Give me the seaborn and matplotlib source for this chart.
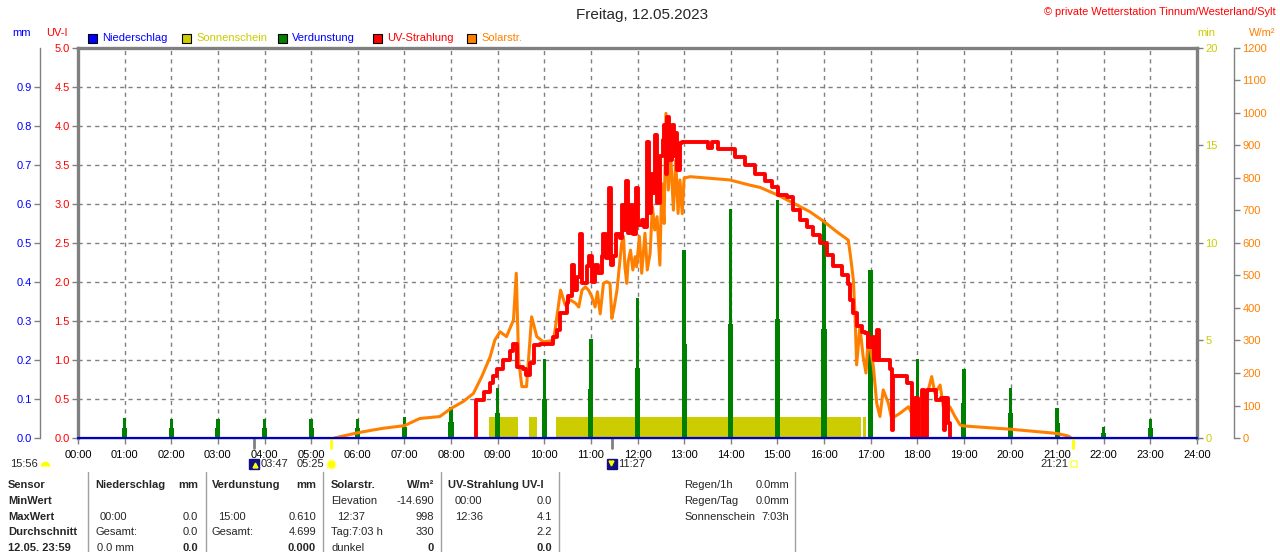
import numpy as np
import pandas as pd
import matplotlib
matplotlib.use("Agg")
import matplotlib.pyplot as plt
import seaborn as sns
from matplotlib.lines import Line2D
from matplotlib.patches import Rectangle
import matplotlib.transforms as mtransforms

# ---------------- data ----------------
hour_ticks = [0, 1, 2, 3, 4, 5, 6, 7, 8, 9, 10, 11, 12, 13, 14, 15, 16, 17, 18, 19, 20, 21, 22, 23, 24]
hour_labels = ["00:00", "01:00", "02:00", "03:00", "04:00", "05:00", "06:00", "07:00", "08:00",
               "09:00", "10:00", "11:00", "12:00", "13:00", "14:00", "15:00", "16:00", "17:00",
               "18:00", "19:00", "20:00", "21:00", "22:00", "23:00", "24:00"]

# Verdunstung (mm) per hour
evap_hours = [1, 2, 3, 4, 5, 6, 7, 8, 9, 10, 11, 12, 13, 14, 15, 16, 17, 18, 19, 20, 21, 22, 23]
evap_mm = [0.051, 0.050, 0.050, 0.050, 0.050, 0.050, 0.054, 0.079, 0.128, 0.203, 0.254, 0.359,
           0.482, 0.587, 0.610, 0.559, 0.431, 0.203, 0.177, 0.128, 0.077, 0.028, 0.050]
evap_half = [0.025, 0.025, 0.025, 0.025, 0.025, 0.025, 0.027, 0.040, 0.064, 0.100, 0.126, 0.180,
             0.240, 0.292, 0.305, 0.280, 0.431, 0.100, 0.090, 0.064, 0.038, 0.014, 0.025]

# Sonnenschein (min) intervals
sun_start = [8.815, 9.67, 10.25, 16.84]
sun_end = [9.43, 9.84, 16.79, 16.91]
sun_min = [1.1, 1.1, 1.1, 1.1]

# UV-Strahlung (UV-I)
uv_time = [8.53, 8.54, 8.66, 8.70, 8.84, 8.91, 8.98, 9.12, 9.27, 9.34, 9.41, 9.55, 9.61, 9.69, 9.77,
           9.91, 10.12, 10.19, 10.27, 10.34, 10.48, 10.52, 10.59, 10.63, 10.70, 10.77, 10.81, 10.91,
           10.97, 11.02, 11.09, 11.16, 11.23, 11.27, 11.33, 11.38, 11.43, 11.48, 11.54, 11.63, 11.66,
           11.71, 11.75, 11.80, 11.85, 11.91, 11.96, 12.02, 12.09, 12.14, 12.20, 12.24, 12.28, 12.34,
           12.37, 12.42, 12.48, 12.54, 12.57, 12.61, 12.64, 12.68, 12.73, 12.78, 12.82, 12.85, 12.91,
           12.95, 13.00, 13.52, 13.60, 13.73, 14.09, 14.30, 14.52, 14.63, 14.73, 14.88, 15.02,
           15.20, 15.34, 15.48, 15.63, 15.77, 15.91, 16.06, 16.20, 16.38, 16.52, 16.56, 16.63, 16.70,
           16.81, 16.88, 16.95, 17.02, 17.08, 17.13, 17.18, 17.34, 17.42, 17.45, 17.48, 17.70, 17.77,
           17.85, 17.88, 17.95, 18.02, 18.10, 18.14, 18.20, 18.34, 18.40, 18.50, 18.56, 18.57, 18.60,
           18.65, 18.70]
uv_index = [0.00, 0.49, 0.49, 0.59, 0.70, 0.79, 0.89, 1.00, 1.11, 1.21, 0.91, 0.89, 0.81, 0.96, 1.19,
            1.21, 1.21, 1.30, 1.38, 1.60, 1.73, 1.82, 2.22, 1.90, 2.07, 2.61, 1.99, 2.20,
            2.33, 2.00, 2.22, 2.12, 2.33, 2.61, 2.31, 3.20, 2.22, 2.33, 2.61, 2.56, 2.99,
            2.67, 3.29, 2.63, 2.99, 2.61, 3.20, 2.73, 2.80, 2.71, 3.80, 2.88, 3.39, 3.14,
            3.88, 3.01, 3.61, 3.82, 4.01, 3.39, 4.12, 3.57, 4.01, 3.61, 3.91, 3.44, 3.78,
            3.80, 3.79, 3.72, 3.79, 3.70, 3.60, 3.50, 3.39, 3.39, 3.29, 3.22, 3.12,
            3.09, 2.92, 2.79, 2.70, 2.60, 2.50, 2.35, 2.21, 2.09, 1.98, 1.77, 1.60, 1.43,
            1.36, 1.34, 1.17, 1.30, 1.00, 1.38, 1.00, 1.00, 0.89, 0.10, 0.79, 0.79, 0.70,
            0.70, 0.00, 0.51, 0.00, 0.62, 0.00, 0.62, 0.62, 0.49, 0.51, 0.51, 0.10, 0.51,
            0.19, 0.00]

# Solarstrahlung (W/m2)
solar_time = [5.50, 5.68, 6.00, 6.30, 6.55, 7.00, 7.33, 7.76, 8.00, 8.26, 8.48, 8.66, 8.84, 8.94, 9.05,
              9.19, 9.34, 9.40, 9.45, 9.52, 9.62, 9.73, 9.84, 9.98, 10.20, 10.35, 10.45, 10.56, 10.67,
              10.74, 10.81, 10.88, 10.95, 11.02, 11.09, 11.14, 11.20, 11.27, 11.34, 11.41, 11.45, 11.50,
              11.56, 11.61, 11.66, 11.70, 11.73, 11.77, 11.80, 11.85, 11.90, 11.95, 11.98, 12.04, 12.09,
              12.16, 12.21, 12.27, 12.32, 12.37, 12.42, 12.48, 12.52, 12.57, 12.61, 12.66, 12.71, 12.77,
              12.82, 12.87, 12.91, 12.96, 13.00, 13.13, 13.48, 13.98, 14.41, 14.63, 15.00, 15.35, 15.70,
              16.00, 16.27, 16.52, 16.57, 16.63, 16.67, 16.70, 16.77, 16.84, 16.90, 16.95, 17.06, 17.13,
              17.20, 17.27, 17.38, 17.45, 17.63, 17.81, 17.92, 18.06, 18.20, 18.31, 18.38, 18.49, 18.56,
              18.70, 18.81, 18.92, 19.00, 20.00, 21.00, 21.24, 21.30]
solar_wm2 = [0, 6, 16, 24, 30, 38, 60, 66, 91, 112, 137, 189, 250, 301, 327,
             312, 363, 507, 240, 158, 158, 373, 312, 296, 300, 455, 409, 425, 415,
             403, 455, 465, 455, 435, 403, 450, 382, 476, 481, 476, 368, 403,
             455, 527, 599, 620, 527, 476, 543, 578, 517, 558, 527, 620, 507,
             630, 517, 568, 712, 640, 681, 532, 783, 660, 999, 763, 876, 701,
             855, 691, 794, 690, 800, 804, 800, 794, 778, 771, 748, 722, 696,
             666, 635, 609, 558, 486, 363, 225, 342, 250, 200, 312, 219, 107,
             66, 148, 107, 60, 76, 96, 66, 66, 127, 189, 137, 163, 96,
             96, 66, 40, 37, 27, 14, 6, 0]

# Niederschlag (mm)
rain_time = [0, 24]
rain_mm = [0.0, 0.0]

# sun / moon events
event_labels = ["03:47", "05:25", "11:27", "21:21"]
event_hours = [3.783, 5.417, 11.45, 21.35]
event_colors = ["#808080", "#ffff00", "#808080", "#ffff00"]

# ---------------- style ----------------
sns.set_style("white")
plt.rcParams['font.family'] = ['Liberation Sans', 'DejaVu Sans']
plt.rcParams['font.size'] = 8

W, H = 1280, 552
fig = plt.figure(figsize=(12.8, 5.52), dpi=100)
fig.patch.set_facecolor('white')

def fx(x):
    return x / W

def fy(y):
    return 1 - y / H

GRAY = '#808080'
C_RAIN = '#0000ff'
C_SUN = '#cccc00'
C_EVAP = '#008000'
C_UV = '#ff0000'
C_SOL = '#ff8000'

ax = fig.add_axes([78 / W, (H - 438) / H, 1119 / W, 390 / H])
ax.set_xlim(0, 24)
ax.set_ylim(0, 5)
ax.set_xticks(hour_ticks)
ax.set_xticklabels(hour_labels)
uv_ticks = [0.0, 0.5, 1.0, 1.5, 2.0, 2.5, 3.0, 3.5, 4.0, 4.5, 5.0]
ax.set_yticks(uv_ticks)
ax.set_yticklabels([f"{v:.1f}" for v in uv_ticks])
ax.grid(True, color=GRAY, linestyle=(0, (3, 3)), linewidth=1)
ax.set_axisbelow(True)
for s in ['top', 'left', 'right']:
    ax.spines[s].set_color(GRAY)
    ax.spines[s].set_linewidth(2.4)
ax.spines['bottom'].set_color(GRAY)
ax.spines['bottom'].set_linewidth(1)
ax.tick_params(axis='y', direction='out', length=4, width=1, color=GRAY, pad=2,
               labelcolor=C_UV, labelsize=8, left=True)
ax.tick_params(axis='x', direction='out', length=4, width=1, color=GRAY, pad=4.5,
               labelcolor='black', labelsize=8, bottom=True)

# sunshine axis (min)
ax_min = ax.twinx()
ax_min.set_ylim(0, 20)
for s in ax_min.spines.values():
    s.set_visible(False)
ax_min.set_yticks([0, 5, 10, 15, 20])
ax_min.set_yticklabels(["0", "5", "10", "15", "20"])
ax_min.tick_params(axis='y', direction='out', length=4, width=1, color=GRAY, pad=2,
                   labelcolor=C_SUN, labelsize=8, right=True)
ax_min.bar(sun_start, sun_min, width=np.array(sun_end) - np.array(sun_start), align='edge',
           color=C_SUN, linewidth=0)

# evaporation axis (mm) on the far left
ax_mm = ax.twinx()
ax_mm.set_ylim(0, 1)
for s in ax_mm.spines.values():
    s.set_visible(False)
ax_mm.yaxis.set_ticks_position('left')
ax_mm.spines['left'].set_visible(True)
ax_mm.spines['left'].set_position(('outward', 27.4))
ax_mm.spines['left'].set_color(GRAY)
ax_mm.spines['left'].set_linewidth(1)
mm_ticks = [0.0, 0.1, 0.2, 0.3, 0.4, 0.5, 0.6, 0.7, 0.8, 0.9]
ax_mm.set_yticks(mm_ticks)
ax_mm.set_yticklabels([f"{v:.1f}" for v in mm_ticks])
ax_mm.tick_params(axis='y', direction='out', length=4, width=1, color=GRAY, pad=2,
                  labelcolor=C_RAIN, labelsize=8, left=True, right=False)
ax_mm.bar(evap_hours, evap_half, width=0.11, color=C_EVAP, linewidth=0)
ax_mm.bar(evap_hours, evap_mm, width=0.07, color=C_EVAP, linewidth=0)

# solar axis (W/m2) on the far right
ax_w = ax.twinx()
ax_w.set_ylim(0, 1200)
for s in ax_w.spines.values():
    s.set_visible(False)
ax_w.spines['right'].set_visible(True)
ax_w.spines['right'].set_position(('outward', 26.6))
ax_w.spines['right'].set_color(GRAY)
ax_w.spines['right'].set_linewidth(1)
w_ticks = [0, 100, 200, 300, 400, 500, 600, 700, 800, 900, 1000, 1100, 1200]
ax_w.set_yticks(w_ticks)
ax_w.set_yticklabels([str(v) for v in w_ticks])
ax_w.tick_params(axis='y', direction='out', length=4, width=1, color=GRAY, pad=2,
                 labelcolor=C_SOL, labelsize=8, right=True)
sns.lineplot(x=solar_time, y=solar_wm2, ax=ax_w, color=C_SOL, linewidth=2.2,
             estimator=None, sort=False, legend=False)

# UV line on its own overlay axis (same scale as ax)
ax_uv = ax.twinx()
ax_uv.set_ylim(0, 5)
for s in ax_uv.spines.values():
    s.set_visible(False)
ax_uv.set_yticks([])
ax_uv.tick_params(right=False, labelright=False)
sns.lineplot(x=uv_time, y=uv_index, ax=ax_uv, color=C_UV, linewidth=2.8,
             estimator=None, sort=False, legend=False, drawstyle='steps-post')

# Rain line
ax_rain = ax.twinx()
ax_rain.set_ylim(0, 1)
for s in ax_rain.spines.values():
    s.set_visible(False)
ax_rain.set_yticks([])
ax_rain.tick_params(right=False, labelright=False)
sns.lineplot(x=rain_time, y=rain_mm, ax=ax_rain, color='#0000c0', linewidth=1.6,
             estimator=None, sort=False, legend=False, clip_on=False)

for a in [ax_min, ax_mm, ax_w, ax_uv, ax_rain]:
    a.set_xlim(0, 24)
    a.set_ylabel("")
    a.set_xlabel("")
ax.set_xlabel("")
ax.set_ylabel("")

# event ticks below axis
trans = mtransforms.blended_transform_factory(ax.transData, ax.transAxes)
for t, c in zip(event_hours, event_colors):
    ax.plot([t, t], [0, -0.026], color=c, lw=2, transform=trans, clip_on=False, zorder=5)

# ---------------- texts ----------------
fig.text(fx(642), fy(15), "Freitag, 12.05.2023", ha='center', va='center', fontsize=11)
fig.text(fx(1276), fy(12), "\u00a9 private Wetterstation Tinnum/Westerland/Sylt", ha='right',
         va='center', color='red', fontsize=7.9)

fig.text(fx(22), fy(33), "mm", ha='center', va='center', color=C_RAIN, fontsize=8)
fig.text(fx(57), fy(33), "UV-I", ha='center', va='center', color=C_UV, fontsize=8)
fig.text(fx(1206), fy(33), "min", ha='center', va='center', color=C_SUN, fontsize=8)
fig.text(fx(1262), fy(33), "W/m\u00b2", ha='center', va='center', color=C_SOL, fontsize=8)

legend_items = [("Niederschlag", C_RAIN, C_RAIN, 88), ("Sonnenschein", C_SUN, C_SUN, 182),
                ("Verdunstung", C_EVAP, C_RAIN, 278), ("UV-Strahlung", C_UV, C_UV, 373),
                ("Solarstr.", C_SOL, C_SOL, 467)]
for lab, fc, tc, x0 in legend_items:
    fig.add_artist(Rectangle((fx(x0), fy(43)), 9 / W, 9 / H, transform=fig.transFigure,
                             facecolor=fc, edgecolor='black', linewidth=0.8))
    fig.text(fx(x0 + 14), fy(38), lab, ha='left', va='center', color=tc, fontsize=8)

# sun / moon info row
yrow = 464
fig.text(fx(10), fy(yrow), "15:56", ha='left', va='center', fontsize=8)
fig.add_artist(Line2D([fx(45)], [fy(yrow + 2)], marker='o', markersize=7, fillstyle='top',
                      markerfacecolor='#ffff00', markerfacecoloralt='none',
                      markeredgecolor='none', transform=fig.transFigure))
# moonrise 03:47
fig.add_artist(Line2D([fx(254)], [fy(yrow)], marker='s', markersize=7, color='#101080',
                      transform=fig.transFigure))
fig.add_artist(Line2D([fx(255)], [fy(yrow + 1)], marker='^', markersize=3.5, color='#ffff00',
                      transform=fig.transFigure))
fig.text(fx(261), fy(yrow), event_labels[0], ha='left', va='center', fontsize=8)
# sunrise 05:25
fig.text(fx(297), fy(yrow), event_labels[1], ha='left', va='center', fontsize=8)
fig.add_artist(Line2D([fx(331)], [fy(yrow)], marker='o', markersize=6.5, markerfacecolor='#ffff00',
                      markeredgecolor='#ffff99', transform=fig.transFigure))
# moonset 11:27
fig.add_artist(Line2D([fx(612)], [fy(yrow)], marker='s', markersize=7, color='#101080',
                      transform=fig.transFigure))
fig.add_artist(Line2D([fx(611)], [fy(yrow - 1)], marker='v', markersize=3.5, color='#ffff00',
                      transform=fig.transFigure))
fig.text(fx(618), fy(yrow), event_labels[2], ha='left', va='center', fontsize=8)
# sunset 21:21
fig.text(fx(1068), fy(yrow), event_labels[3], ha='right', va='center', fontsize=8)
fig.add_artist(Line2D([fx(1074)], [fy(yrow)], marker='s', markersize=5, markerfacecolor='none',
                      markeredgecolor='#ffff66', markeredgewidth=1.2, transform=fig.transFigure))

# ---------------- table ----------------
for xs in [88, 206, 323, 441, 559, 795]:
    fig.add_artist(Line2D([fx(xs), fx(xs)], [fy(472), fy(552)], color='#a0a0a0', lw=1,
                          transform=fig.transFigure))

rows = [485, 501, 517, 532, 548]

def T(x, y, s, ha='left', bold=False):
    fig.text(fx(x), fy(y), s, ha=ha, va='center', fontsize=8,
             fontweight='bold' if bold else 'normal')

for lab, y in zip(["Sensor", "MinWert", "MaxWert", "Durchschnitt", "12.05. 23:59"], rows):
    T(8, y, lab, bold=True)

T(95, rows[0], "Niederschlag", bold=True); T(198, rows[0], "mm", ha='right', bold=True)
T(100, rows[2], "00:00"); T(198, rows[2], "0.0", ha='right')
T(95, rows[3], "Gesamt:"); T(198, rows[3], "0.0", ha='right')
T(97, rows[4], "0.0 mm"); T(198, rows[4], "0.0", ha='right', bold=True)

T(212, rows[0], "Verdunstung", bold=True); T(316, rows[0], "mm", ha='right', bold=True)
T(218, rows[2], "15:00"); T(316, rows[2], "0.610", ha='right')
T(212, rows[3], "Gesamt:"); T(316, rows[3], "4.699", ha='right')
T(316, rows[4], "0.000", ha='right', bold=True)

T(331, rows[0], "Solarstr.", bold=True); T(434, rows[0], "W/m\u00b2", ha='right', bold=True)
T(331, rows[1], "Elevation"); T(434, rows[1], "-14.690", ha='right')
T(337, rows[2], "12:37"); T(434, rows[2], "998", ha='right')
T(331, rows[3], "Tag:7:03 h"); T(434, rows[3], "330", ha='right')
T(331, rows[4], "dunkel"); T(434, rows[4], "0", ha='right', bold=True)

T(448, rows[0], "UV-Strahlung UV-I", bold=True)
T(455, rows[1], "00:00"); T(552, rows[1], "0.0", ha='right')
T(455, rows[2], "12:36"); T(552, rows[2], "4.1", ha='right')
T(552, rows[3], "2.2", ha='right')
T(552, rows[4], "0.0", ha='right', bold=True)

T(684, rows[0], "Regen/1h"); T(789, rows[0], "0.0mm", ha='right')
T(684, rows[1], "Regen/Tag"); T(789, rows[1], "0.0mm", ha='right')
T(684, rows[2], "Sonnenschein"); T(789, rows[2], "7:03h", ha='right')

fig.savefig("out.png", dpi=100, facecolor='white')
